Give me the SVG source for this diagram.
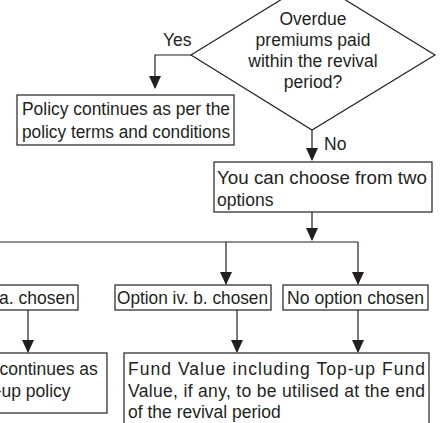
<svg xmlns="http://www.w3.org/2000/svg" width="445" height="423" viewBox="0 0 445 423">
<style>
.shape{fill:#ffffff;stroke:#231f20;stroke-width:1.2}
.line{fill:none;stroke:#231f20;stroke-width:1.2}
text{font-family:"Liberation Sans",Arial,sans-serif;font-size:17.5px;fill:#231f20}
.c{text-anchor:middle}
</style>
<defs>
<marker id="arr" markerUnits="userSpaceOnUse" markerWidth="14" markerHeight="14" viewBox="0 0 14 14" refX="7" refY="13" orient="auto-start-reverse">
<path d="M1,1 L13,1 L7,13 Z" fill="#231f20" transform="rotate(-90 7 7)"/>
</marker>
</defs>
<rect width="445" height="423" fill="#ffffff"/>
<g id="connectors">
<path class="line" d="M191,55 H155 V88"/>
<path class="line" d="M312,130 V160"/>
<path class="line" d="M312,212 V240"/>
<path class="line" d="M0,242 H358"/>
<path class="line" d="M226,242 V284"/>
<path class="line" d="M358,242 V284"/>
<path class="line" d="M28,310 V352"/>
<path class="line" d="M237,310 V352"/>
<path class="line" d="M358,310 V352"/>
<g fill="#231f20">
<polygon points="149,76 161,76 155,89"/>
<polygon points="306,148 318,148 312,161"/>
<polygon points="306,228 318,228 312,241"/>
<polygon points="220,272 232,272 226,285"/>
<polygon points="352,272 364,272 358,285"/>
<polygon points="22,340 34,340 28,353"/>
<polygon points="231,340 243,340 237,353"/>
<polygon points="352,340 364,340 358,353"/>
</g>
<text x="163" y="46">Yes</text>
<text x="324" y="150">No</text>
</g>
<g id="decision">
<polygon class="shape" points="313,-20 435,55 312,130 191,55"/>
<text class="c" x="313" y="25">Overdue</text>
<text class="c" x="313" y="46">premiums paid</text>
<text class="c" x="313" y="67">within the revival</text>
<text class="c" x="313" y="88">period?</text>
</g>
<g id="policy-continues">
<rect class="shape" x="17" y="95" width="217" height="50"/>
<text x="22" y="115" textLength="208" lengthAdjust="spacingAndGlyphs">Policy continues as per the</text>
<text x="22" y="138" textLength="208" lengthAdjust="spacingAndGlyphs">policy terms and conditions</text>
</g>
<g id="choose-options">
<rect class="shape" x="214" y="162" width="218" height="50"/>
<text x="217" y="184" textLength="210" lengthAdjust="spacingAndGlyphs">You can choose from two</text>
<text x="217" y="206">options</text>
</g>
<g id="option-a">
<rect class="shape" x="-90" y="285" width="168" height="25"/>
<text x="75" y="304" text-anchor="end">Option iv. a. chosen</text>
</g>
<g id="option-b">
<rect class="shape" x="115" y="285" width="156" height="25"/>
<text x="117" y="304" textLength="151" lengthAdjust="spacingAndGlyphs">Option iv. b. chosen</text>
</g>
<g id="no-option">
<rect class="shape" x="283" y="285" width="145" height="25"/>
<text x="287" y="304" textLength="137" lengthAdjust="spacingAndGlyphs">No option chosen</text>
</g>
<g id="paid-up">
<rect class="shape" x="-60" y="353" width="167" height="60"/>
<text x="-52" y="375">Policy continues as</text>
<text x="-52" y="397">a paid-up policy</text>
</g>
<g id="fund-value">
<rect class="shape" x="124" y="353" width="305" height="80"/>
<text x="128" y="375" textLength="297" lengthAdjust="spacing">Fund Value including Top-up Fund</text>
<text x="128" y="397" textLength="297" lengthAdjust="spacing">Value, if any, to be utilised at the end</text>
<text x="128" y="418">of the revival period</text>
</g>
</svg>
